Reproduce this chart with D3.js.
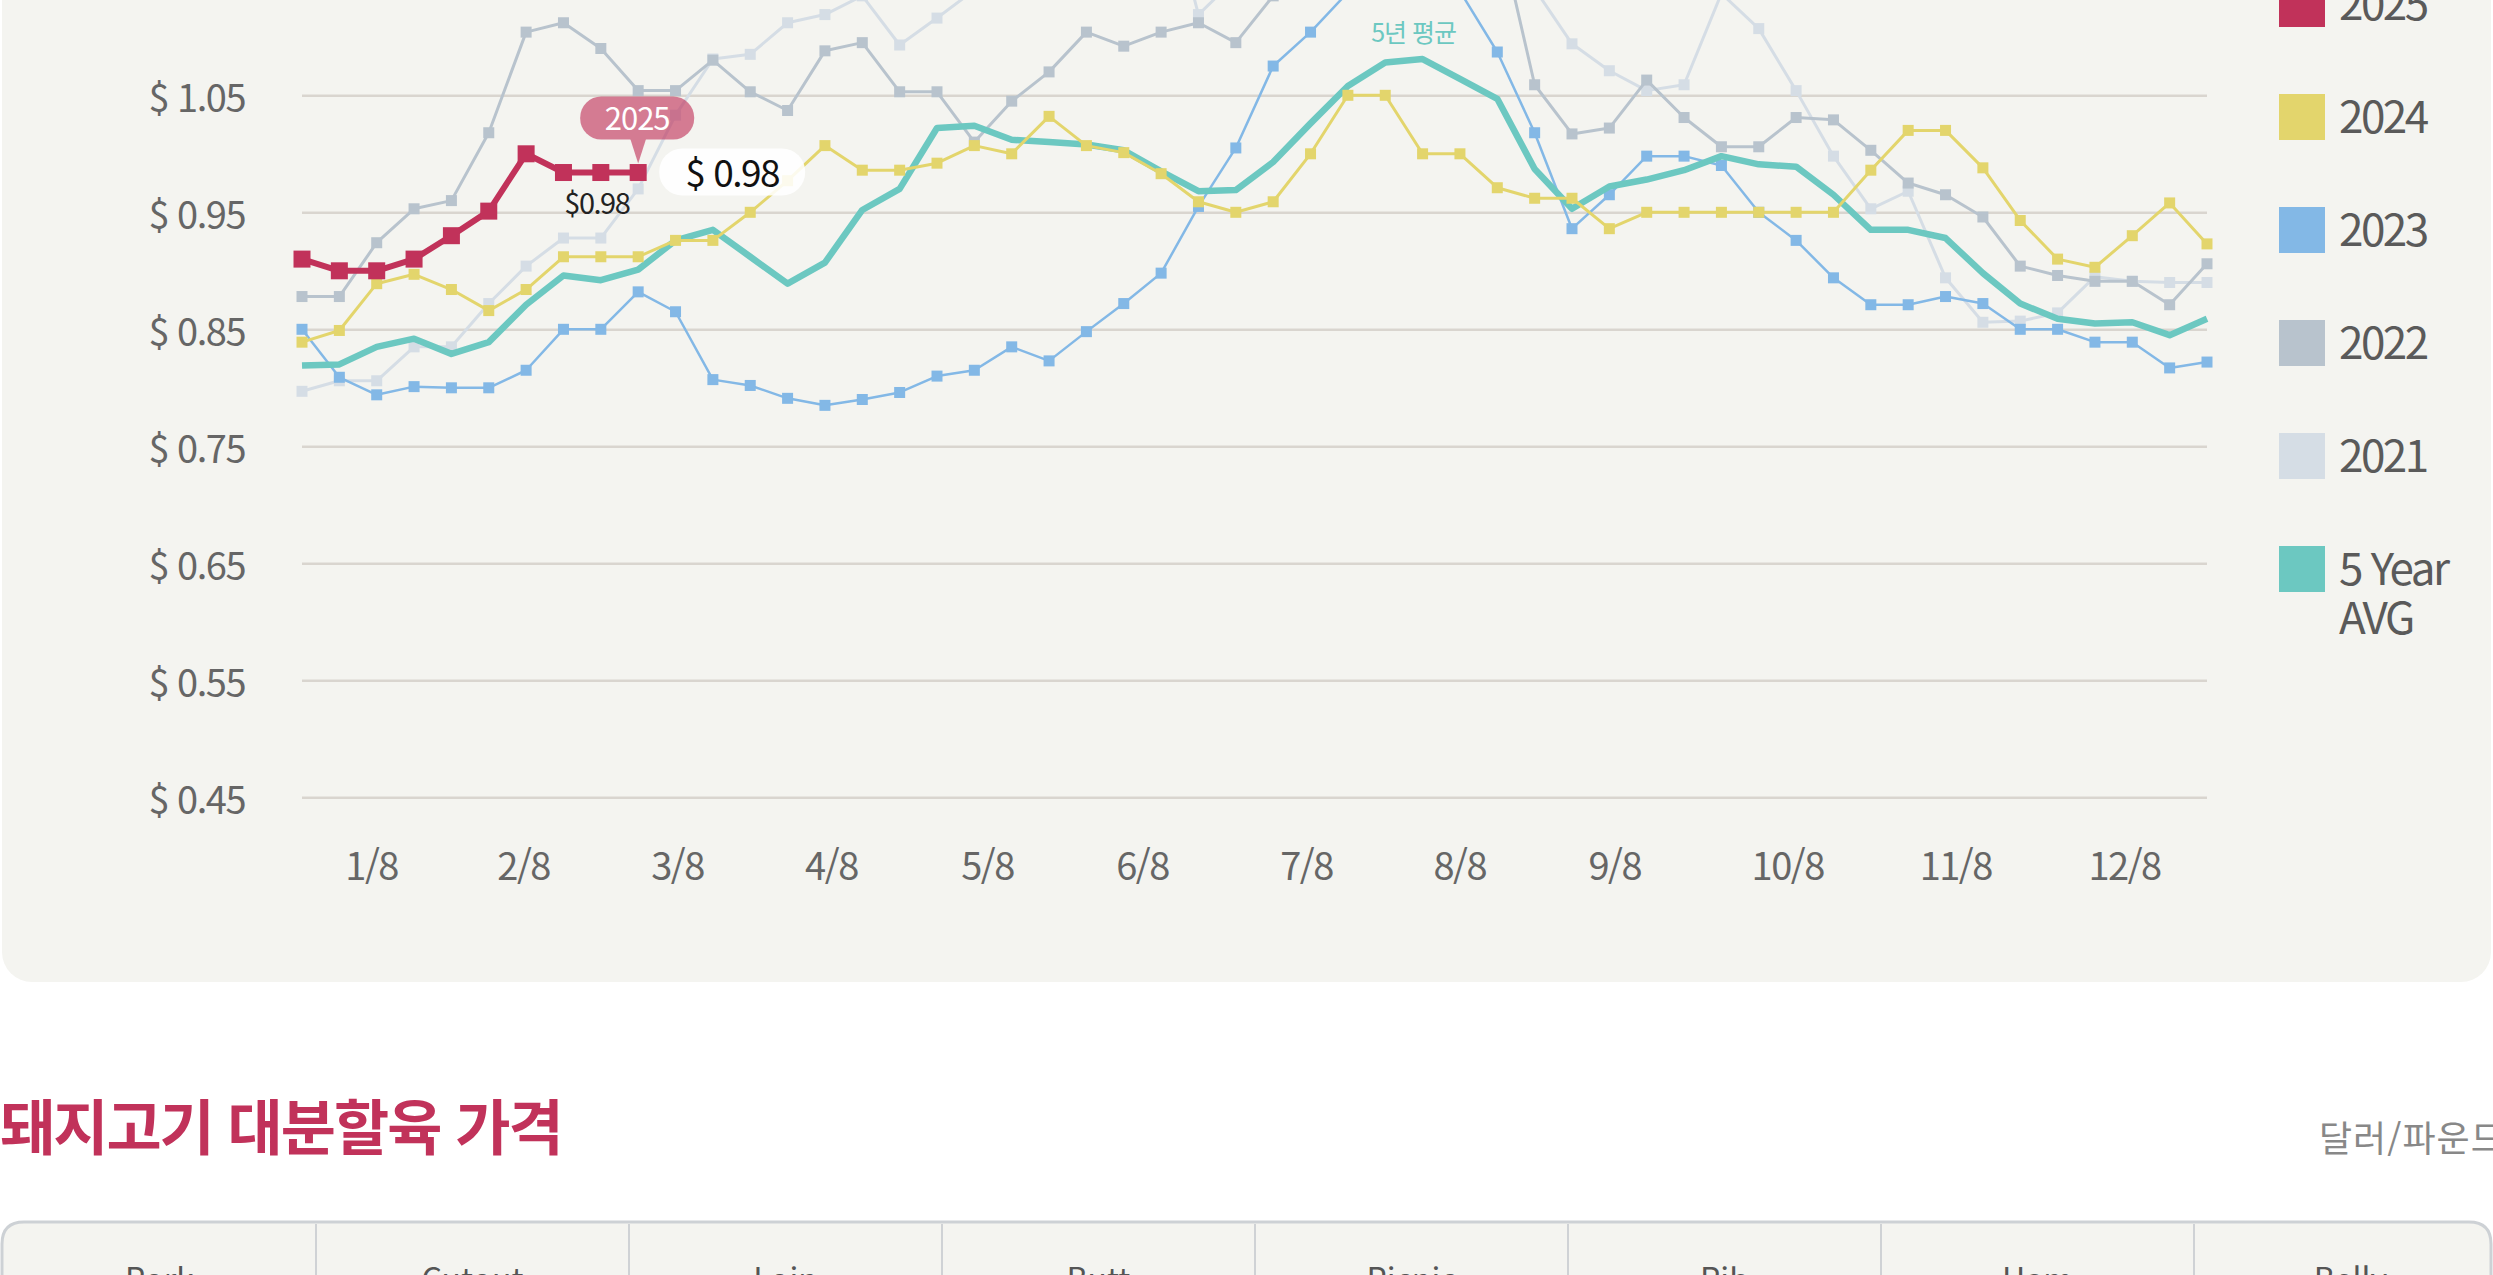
<!DOCTYPE html>
<html lang="ko">
<head>
<meta charset="utf-8">
<title>돼지고기 가격</title>
<script src="https://cdn.jsdelivr.net/npm/d3@7"></script>
<style>
    body {
        margin: 0;
        background: #fff;
        overflow: hidden;
        font-family: "Noto Sans CJK KR", "Noto Sans", sans-serif;
    }
    svg { display: block; }
    .axis .domain { display: none; }
    .axis text {
        fill: #666;
        font-size: 38px;
        letter-spacing: -1.5px;
        font-family: "Noto Sans CJK KR", sans-serif;
    }
    .yAxis .tick line {
        stroke: #d9d5cf;
        stroke-width: 2.5;
    }
    .xAxis .tick line { display: none; }
    .legend text {
        fill: #5a5a5a;
        font-size: 44px;
        letter-spacing: -2.5px;
    }
</style>
</head>
<body>
<div id="chart"></div>
<script>
const width = 2493,
    height = 1275;

// x axis labels and where they sit (in weeks from the first point)
const tickLabels = ['1/8', '2/8', '3/8', '4/8', '5/8', '6/8', '7/8', '8/8', '9/8', '10/8', '11/8', '12/8'];
const tickWeeks = [1.85, 5.92, 10.04, 14.16, 18.34, 22.49, 26.88, 30.98, 35.13, 39.76, 44.26, 48.78];
const yTicks = [0.45, 0.55, 0.65, 0.75, 0.85, 0.95, 1.05, 1.15, 1.25, 1.35];

const seriesNames = ['2025', '2024', '2023', '2022', '2021', '5 Year AVG'];
const seriesColors = ['#c1325a', '#e3d56c', '#83b8e6', '#b8c3cd', '#d5dde5', '#6cc8c1'];

// weekly prices, $/lb
const price2025 = [0.91, 0.90, 0.90, 0.91, 0.93, 0.951, 1.00, 0.984, 0.984, 0.984];
const price2024 = [0.839, 0.849, 0.889, 0.897, 0.884, 0.866, 0.884, 0.912, 0.912, 0.912,
    0.926, 0.926, 0.95, 0.977, 1.007, 0.986, 0.986, 0.992, 1.007, 1.0,
    1.032, 1.007, 1.001, 0.983, 0.959, 0.95, 0.959, 1.0, 1.05, 1.05,
    1.0, 1.0, 0.971, 0.962, 0.962, 0.936, 0.95, 0.95, 0.95, 0.95,
    0.95, 0.95, 0.986, 1.02, 1.02, 0.988, 0.943, 0.91, 0.903, 0.93,
    0.958, 0.923];
const price2023 = [0.85, 0.809, 0.794, 0.801, 0.80, 0.80, 0.815, 0.85, 0.85, 0.882,
    0.865, 0.807, 0.802, 0.791, 0.785, 0.79, 0.796, 0.81, 0.815, 0.835,
    0.823, 0.848, 0.872, 0.898, 0.955, 1.005, 1.075, 1.104, 1.138, 1.17,
    1.17, 1.139, 1.087, 1.018, 0.936, 0.965, 0.998, 0.998, 0.99, 0.95,
    0.926, 0.894, 0.871, 0.871, 0.878, 0.872, 0.85, 0.85, 0.839, 0.839,
    0.817, 0.822];
const price2022 = [0.878, 0.878, 0.924, 0.953, 0.96, 1.018, 1.104, 1.112, 1.09, 1.054,
    1.054, 1.08, 1.053, 1.037, 1.088, 1.095, 1.053, 1.053, 1.01, 1.045,
    1.07, 1.104, 1.092, 1.104, 1.112, 1.095, 1.135, 1.18, 1.21, 1.23,
    1.24, 1.23, 1.198, 1.059, 1.017, 1.022, 1.063, 1.031, 1.006, 1.006,
    1.031, 1.029, 1.003, 0.975, 0.965, 0.946, 0.904, 0.896, 0.891, 0.891,
    0.871, 0.906];
const price2021 = [0.797, 0.806, 0.806, 0.835, 0.835, 0.872, 0.904, 0.928, 0.928, 0.97,
    1.033, 1.081, 1.085, 1.112, 1.119, 1.135, 1.093, 1.116, 1.14, 1.17,
    1.19, 1.21, 1.23, 1.24, 1.119, 1.15, 1.19, 1.22, 1.25, 1.27,
    1.25, 1.22, 1.18, 1.141, 1.094, 1.071, 1.054, 1.059, 1.137, 1.107,
    1.054, 0.998, 0.953, 0.968, 0.894, 0.856, 0.857, 0.864, 0.895, 0.891,
    0.89, 0.89];
const priceAvg = [0.819, 0.82, 0.835, 0.842, 0.829, 0.839, 0.871, 0.896, 0.892, 0.901,
    0.926, 0.935, 0.912, 0.889, 0.907, 0.952, 0.97, 1.022, 1.024, 1.012,
    1.01, 1.008, 1.003, 0.985, 0.968, 0.969, 0.993, 1.026, 1.058, 1.078,
    1.081, 1.064, 1.047, 0.987, 0.953, 0.972, 0.978, 0.986, 0.998, 0.991,
    0.989, 0.965, 0.935, 0.935, 0.928, 0.898, 0.872, 0.859, 0.855, 0.856,
    0.845, 0.859];

const tableHeads = ['Pork', 'Cutout', 'Loin', 'Butt', 'Picnic', 'Rib', 'Ham', 'Belly'];

// drawing order: faint years first, 2025 last
const series = [
    { name: '2021', values: price2021, color: seriesColors[4], lw: 3, marker: 11 },
    { name: '2022', values: price2022, color: seriesColors[3], lw: 3, marker: 11 },
    { name: '2023', values: price2023, color: seriesColors[2], lw: 2.5, marker: 11 },
    { name: 'avg', values: priceAvg, color: seriesColors[5], lw: 6.5, marker: 0 },
    { name: '2024', values: price2024, color: seriesColors[1], lw: 3, marker: 11 },
    { name: '2025', values: price2025, color: seriesColors[0], lw: 6, marker: 17 }
];

const svg = d3.select('#chart')
    .append('svg')
    .attr('width', width)
    .attr('height', height);

const xScale = d3.scaleLinear()
    .domain([0, 51])
    .range([302, 2207]);
const yScale = d3.scaleLinear()
    .domain([0.45, 1.05])
    .range([797.3, 95.3]);

// grey card behind the chart
svg.append('rect')
    .attr('x', 2)
    .attr('y', -80)
    .attr('width', 2489)
    .attr('height', 1062)
    .attr('rx', 30)
    .attr('fill', '#f4f4f0');

// grid + y labels
const yAxis = d3.axisLeft(yScale)
    .tickValues(yTicks)
    .tickSize(-(xScale(51) - xScale(0)))
    .tickPadding(57)
    .tickFormat(d => '$ ' + d.toFixed(2));

svg.append('g')
    .attr('class', 'axis yAxis')
    .attr('transform', 'translate(' + xScale(0) + ',0)')
    .call(yAxis)
    .selectAll('text')
    .attr('dy', '0.42em');

const xAxis = d3.axisBottom(xScale)
    .tickValues(tickWeeks)
    .tickSize(0)
    .tickPadding(56)
    .tickFormat((d, i) => tickLabels[i]);

svg.append('g')
    .attr('class', 'axis xAxis')
    .attr('transform', 'translate(0,' + yScale(0.45) + ')')
    .call(xAxis);

const line = d3.line()
    .x((d, i) => xScale(i))
    .y(d => yScale(d));

series.forEach(s => {
    const g = svg.append('g').attr('class', 'series');
    g.append('path')
        .datum(s.values)
        .attr('d', line)
        .attr('fill', 'none')
        .attr('stroke', s.color)
        .attr('stroke-width', s.lw)
        .attr('stroke-linejoin', 'round');
    if (s.marker > 0) {
        g.selectAll('rect')
            .data(s.values)
            .enter()
            .append('rect')
            .attr('x', (d, i) => xScale(i) - s.marker / 2)
            .attr('y', d => yScale(d) - s.marker / 2)
            .attr('width', s.marker)
            .attr('height', s.marker)
            .attr('fill', s.color);
    }
});

// "5년 평균" over the top of the average curve
const peak = d3.maxIndex(priceAvg);
svg.append('text')
    .attr('x', xScale(peak) - 9)
    .attr('y', yScale(priceAvg[peak]) - 17)
    .attr('text-anchor', 'middle')
    .attr('fill', '#6cc8c1')
    .style('font-size', '25px')
    .style('letter-spacing', '-1px')
    .text('5년 평균');

// latest 2025 value callouts
const lastI = price2025.length - 1,
    lastV = price2025[lastI],
    px = xScale(lastI),
    py = yScale(lastV);

svg.append('text')
    .attr('x', xScale(lastI - 1) - 4)
    .attr('y', py + 41)
    .attr('text-anchor', 'middle')
    .attr('fill', '#222')
    .style('font-size', '29px')
    .style('letter-spacing', '-1.5px')
    .text('$' + lastV.toFixed(2));

const bubble = svg.append('g').attr('opacity', 0.62);
bubble.append('rect')
    .attr('x', px - 58)
    .attr('y', py - 76)
    .attr('width', 114)
    .attr('height', 43)
    .attr('rx', 21)
    .attr('fill', '#c1325a');
bubble.append('path')
    .attr('d', 'M' + (px - 8) + ',' + (py - 34) + 'L' + (px + 8) + ',' + (py - 34) + 'L' + px + ',' + (py - 9) + 'Z')
    .attr('fill', '#c1325a');
svg.append('text')
    .attr('x', px - 1)
    .attr('y', py - 43)
    .attr('text-anchor', 'middle')
    .attr('fill', '#fff')
    .style('font-size', '31px')
    .style('letter-spacing', '-1px')
    .text('2025');

svg.append('rect')
    .attr('x', px + 21)
    .attr('y', py - 24)
    .attr('width', 146)
    .attr('height', 47)
    .attr('rx', 23)
    .attr('fill', '#fff')
    .attr('opacity', 0.88);
svg.append('text')
    .attr('x', px + 94)
    .attr('y', py + 14)
    .attr('text-anchor', 'middle')
    .attr('fill', '#111')
    .style('font-size', '37px')
    .style('letter-spacing', '-1.5px')
    .text('$ ' + lastV.toFixed(2));

// legend
const legend = svg.append('g')
    .attr('class', 'legend')
    .attr('transform', 'translate(2279,-19)');

const item = legend.selectAll('g')
    .data(seriesNames)
    .enter()
    .append('g')
    .attr('transform', (d, i) => 'translate(0,' + (i * 113) + ')');

item.append('rect')
    .attr('width', 46)
    .attr('height', 46)
    .attr('fill', (d, i) => seriesColors[i]);

item.append('text')
    .attr('y', 23)
    .selectAll('tspan')
    .data(d => d === '5 Year AVG' ? ['5 Year', 'AVG'] : [d])
    .enter()
    .append('tspan')
    .attr('x', 60)
    .attr('dy', (d, i) => i === 0 ? '0.36em' : '49px')
    .text(d => d);

// section below the chart
svg.append('text')
    .attr('x', 0)
    .attr('y', 1150)
    .attr('fill', '#c1325a')
    .style('font-size', '60px')
    .style('font-weight', 700)
    .style('letter-spacing', '-2px')
    .text('돼지고기 대분할육 가격');

svg.append('text')
    .attr('x', 2319)
    .attr('y', 1152)
    .attr('fill', '#888')
    .style('font-size', '36px')
    .style('letter-spacing', '1px')
    .text('달러/파운드');

const colW = 313,
    tableX = 3,
    tableTop = 1222;

svg.append('path')
    .attr('d', 'M2,1320 L2,' + (tableTop + 22) + ' Q2,' + tableTop + ' 24,' + tableTop +
        ' L2469,' + tableTop + ' Q2491,' + tableTop + ' 2491,' + (tableTop + 22) + ' L2491,1320')
    .attr('fill', '#f4f4f0')
    .attr('stroke', '#cdd1d5')
    .attr('stroke-width', 3);

svg.selectAll('.colLine')
    .data(tableHeads.slice(1))
    .enter()
    .append('line')
    .attr('class', 'colLine')
    .attr('x1', (d, i) => tableX + colW * (i + 1))
    .attr('x2', (d, i) => tableX + colW * (i + 1))
    .attr('y1', tableTop + 2)
    .attr('y2', height)
    .attr('stroke', '#cfd2d5')
    .attr('stroke-width', 2);

svg.selectAll('.colHead')
    .data(tableHeads)
    .enter()
    .append('text')
    .attr('class', 'colHead')
    .attr('x', (d, i) => tableX + colW * (i + 0.5))
    .attr('y', 1291)
    .attr('text-anchor', 'middle')
    .attr('fill', '#555')
    .style('font-size', '32px')
    .text(d => d);
</script>
</body>
</html>
